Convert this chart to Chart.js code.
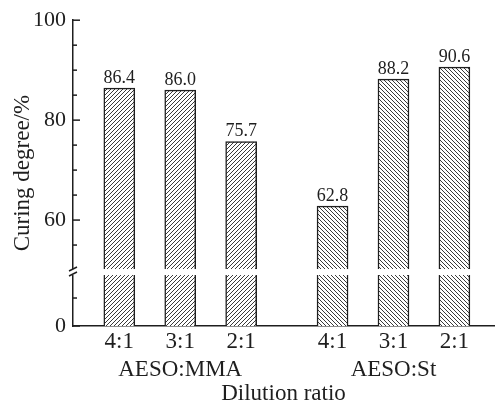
<!DOCTYPE html>
<html>
<head>
<meta charset="utf-8">
<script src="https://cdn.jsdelivr.net/npm/chart.js@4.4.0/dist/chart.umd.min.js"></script>
<style>
  html, body { margin: 0; padding: 0; background: #fff; }
  #contenedor { width: 495px; height: 408px; }
</style>
</head>
<body>
<div id="contenedor"><canvas id="miGrafico"></canvas></div>
<script>
// Datos del gráfico
const relaciones = ['4:1', '3:1', '2:1', '4:1', '3:1', '2:1'];
const grupos = ['AESO:MMA', 'AESO:MMA', 'AESO:MMA', 'AESO:St', 'AESO:St', 'AESO:St'];
const gradoCurado = [86.4, 86.0, 75.7, 62.8, 88.2, 90.6];
const ticksMayores = [0, 60, 80, 100];
const ticksMenores = [25, 55, 65, 70, 75, 85, 90, 95];

const FUENTE = '"Liberation Serif", "Times New Roman", serif';
const COLOR = '#1e1e1e';

// Eje roto: de 0 a 50 va comprimido, de 50 a 100 normal
const CORTE = 50;
const BASE_EJE = 38.8;
function aEje(v) {
    return v >= CORTE ? v : BASE_EJE + v * (CORTE - BASE_EJE) / CORTE;
}

// Posición de cada barra, con medio hueco extra entre grupos
const posiciones = [];
let pos = 0;
grupos.forEach((g, i) => {
    pos += (i > 0 && g !== grupos[i - 1]) ? 1.5 : 1;
    posiciones.push(pos);
});

// Etiqueta del eje x: el nombre del grupo va bajo la barra central
function etiqueta(i) {
    const indices = grupos.map((g, k) => k).filter(k => grupos[k] === grupos[i]);
    const centro = indices[Math.floor(indices.length / 2)];
    return i === centro ? [relaciones[i], grupos[i]] : relaciones[i];
}

// Trama rayada para las barras
function crearTrama(ctx, sentido) {
    const lado = 4;
    const c = document.createElement('canvas');
    c.width = lado;
    c.height = lado;
    const g = c.getContext('2d');
    g.fillStyle = '#fff';
    g.fillRect(0, 0, lado, lado);
    g.strokeStyle = '#3a3a3a';
    g.lineWidth = 1;
    g.beginPath();
    for (let k = -1; k <= 1; k++) {
        if (sentido === '/') {
            g.moveTo(k * lado, lado);
            g.lineTo(k * lado + lado, 0);
        } else {
            g.moveTo(k * lado, 0);
            g.lineTo(k * lado + lado, lado);
        }
    }
    g.stroke();
    return ctx.createPattern(c, 'repeat');
}

// Marcas hacia dentro, corte del eje y valores encima de las barras
const pluginEjeRoto = {
    id: 'ejeRoto',
    afterDatasetsDraw(chart) {
        const { ctx, chartArea, scales } = chart;
        const y = scales.y;
        const izq = chartArea.left;
        ctx.save();
        ctx.strokeStyle = COLOR;
        ctx.lineWidth = 1.5;
        const linea = (x1, y1, x2, y2) => {
            ctx.beginPath();
            ctx.moveTo(x1, y1);
            ctx.lineTo(x2, y2);
            ctx.stroke();
        };
        ticksMayores.forEach(v => {
            const py = y.getPixelForValue(aEje(v));
            linea(izq, py, izq + 7, py);
        });
        ticksMenores.forEach(v => {
            const py = y.getPixelForValue(aEje(v));
            linea(izq, py, izq + 4, py);
        });

        // banda blanca del corte
        const yc = y.getPixelForValue(CORTE);
        ctx.fillStyle = '#fff';
        ctx.fillRect(izq - 2, yc - 1, chartArea.right - izq + 3, 6);
        linea(izq - 4, yc + 1, izq + 4, yc - 3);
        linea(izq - 4, yc + 6, izq + 4, yc + 2);

        // valores
        const meta = chart.getDatasetMeta(0);
        ctx.fillStyle = COLOR;
        ctx.font = '18px ' + FUENTE;
        ctx.textAlign = 'center';
        ctx.textBaseline = 'bottom';
        meta.data.forEach((barra, i) => {
            ctx.fillText(gradoCurado[i].toFixed(1), barra.x, barra.y - 1);
        });
        ctx.restore();
    }
};

const ctx = document.getElementById('miGrafico').getContext('2d');
const tramas = grupos.map(g => crearTrama(ctx, g === grupos[0] ? '/' : '\\'));

new Chart(ctx, {
    type: 'bar',
    data: {
        datasets: [{
            data: gradoCurado.map((v, i) => ({ x: posiciones[i], y: aEje(v) })),
            backgroundColor: tramas,
            borderColor: COLOR,
            borderWidth: 1.5,
            barThickness: 31
        }]
    },
    options: {
        responsive: true,
        maintainAspectRatio: false,
        animation: false,
        layout: { padding: { top: 20, right: 1, left: 0, bottom: 0 } },
        plugins: {
            legend: { display: false },
            tooltip: { enabled: false }
        },
        scales: {
            x: {
                type: 'linear',
                min: 0.24,
                max: 7.15,
                offset: false,
                grid: { display: false, drawTicks: false },
                border: { display: true, color: COLOR, width: 1.5 },
                afterBuildTicks: (eje) => {
                    eje.ticks = posiciones.map(p => ({ value: p }));
                },
                ticks: {
                    callback: (v, i) => etiqueta(i),
                    font: { family: FUENTE, size: 23, lineHeight: 28 / 23 },
                    color: COLOR,
                    padding: 2,
                    maxRotation: 0,
                    autoSkip: false
                },
                title: {
                    display: true,
                    text: 'Dilution ratio',
                    font: { family: FUENTE, size: 23, lineHeight: 1.1 },
                    color: COLOR,
                    padding: { top: 0, bottom: 1 }
                },
                afterFit: (eje) => { eje.height = 82; }
            },
            y: {
                min: BASE_EJE,
                max: 100,
                beginAtZero: false,
                grid: { display: false, drawTicks: false },
                border: { display: true, color: COLOR, width: 1.5 },
                afterBuildTicks: (eje) => {
                    eje.ticks = ticksMayores.map(v => ({ value: aEje(v) }));
                },
                ticks: {
                    callback: (v, i) => String(ticksMayores[i]),
                    font: { family: FUENTE, size: 22 },
                    color: COLOR,
                    padding: 7
                },
                title: {
                    display: true,
                    text: 'Curing degree/%',
                    font: { family: FUENTE, size: 23 },
                    color: COLOR,
                    padding: { top: 9, bottom: 0 }
                },
                afterFit: (eje) => { eje.width = 73; }
            }
        }
    },
    plugins: [pluginEjeRoto]
});
</script>
</body>
</html>
